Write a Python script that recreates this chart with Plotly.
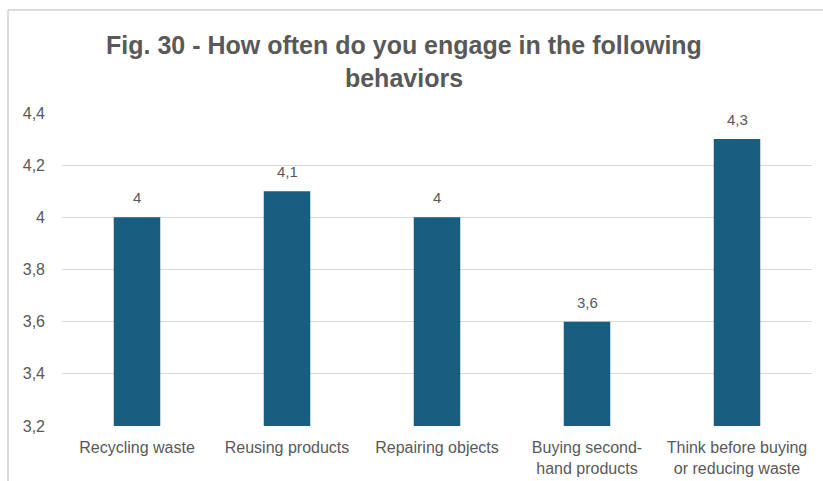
import plotly.graph_objects as go

categories = ["Recycling waste", "Reusing products", "Repairing objects",
              "Buying second-<br>hand products", "Think before buying<br>or reducing waste"]
values = [4.0, 4.1, 4.0, 3.6, 4.3]
tick_vals = [3.2, 3.4, 3.6, 3.8, 4.0, 4.2, 4.4]
tick_text = ["3,2", "3,4", "3,6", "3,8", "4", "4,2", "4,4"]
labels = ["4", "4,1", "4", "3,6", "4,3"]

W, H = 823, 481
ml, mr, mt, mb = 62, 11, 113, 55
pw, ph = W - ml - mr, H - mt - mb
FONT = "Liberation Sans, Arial, sans-serif"
GREY = "#595959"

fig = go.Figure(go.Bar(
    x=categories, y=values,
    marker=dict(color="#185E80", line=dict(width=0)),
    width=0.31, cliponaxis=False,
))

annotations = [
    dict(x=c, y=v, text=t, xref="x", yref="y", showarrow=False,
         yanchor="bottom", yshift=9, font=dict(size=15, color=GREY, family=FONT))
    for c, v, t in zip(categories, values, labels)
]

def px_x(p):
    return (p - ml) / pw

def px_y(p):
    return (H - mb - p) / ph

fig.update_layout(
    width=W, height=H,
    margin=dict(l=ml, r=mr, t=mt, b=mb, pad=0, autoexpand=False),
    paper_bgcolor="white", plot_bgcolor="white",
    title=dict(text="Fig. 30 - How often do you engage in the following<br>behaviors",
               x=404 / W, xanchor="center", y=1 - 54 / H, yanchor="middle",
               font=dict(size=25, color=GREY, family=FONT, weight="bold"),
               automargin=False),
    font=dict(family=FONT, color=GREY, size=16),
    showlegend=False,
    annotations=annotations,
    xaxis=dict(showline=False, ticks="", ticklabelstandoff=10, automargin=False,
               tickfont=dict(size=16, color=GREY, family=FONT)),
    yaxis=dict(range=[3.2, 4.4], tickvals=tick_vals, ticktext=tick_text,
               showgrid=True, gridcolor="#D9D9D9", gridwidth=1, zeroline=False,
               showline=False, ticks="", ticklabelstandoff=16, automargin=False,
               tickfont=dict(size=16, color=GREY, family=FONT)),
    shapes=[
        dict(type="line", xref="paper", yref="paper", x0=px_x(8), x1=px_x(823), y0=px_y(10), y1=px_y(10),
             line=dict(color="#D0D0D0", width=1.5)),
        dict(type="line", xref="paper", yref="paper", x0=px_x(8), x1=px_x(8), y0=px_y(10), y1=px_y(481),
             line=dict(color="#D0D0D0", width=1.5)),
    ],
)

fig.write_html("out.html")
